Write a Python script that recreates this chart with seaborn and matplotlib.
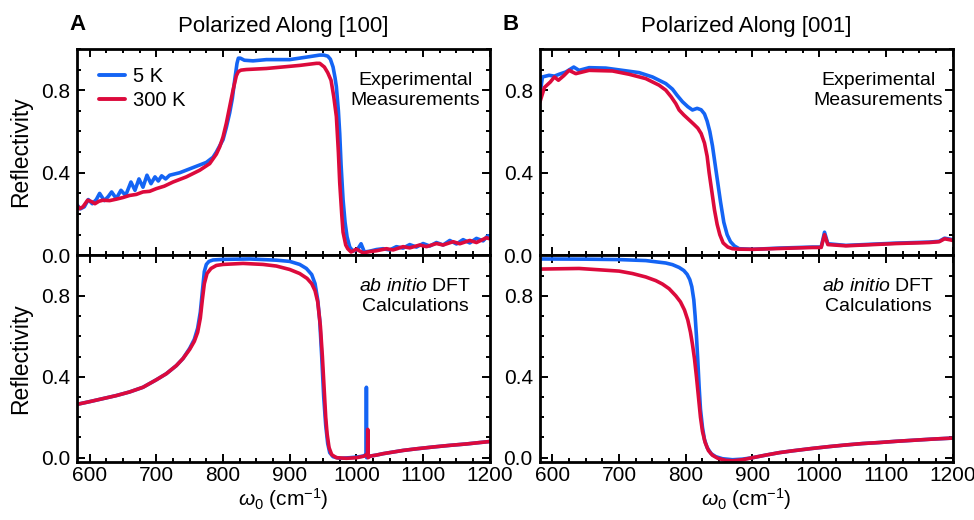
import numpy as np
import pandas as pd
import seaborn as sns
import matplotlib.pyplot as plt
from matplotlib.ticker import MultipleLocator

# ---- data ----
# Panel A, experiment, 5 K
a_exp_5k_x = [581, 586, 592, 598, 604, 610, 615, 622, 628, 633, 640, 647, 654, 662, 668, 674,
              680, 686, 692, 698, 703, 708, 714, 720, 735, 755, 775, 785, 790, 795, 800, 805,
              810, 814, 818, 821, 823, 826, 832, 845, 865, 900, 925, 945, 951, 957, 961, 965,
              968, 970, 973, 975, 977, 980, 983, 986, 990, 995, 1002, 1007, 1012, 1020, 1030,
              1040, 1050, 1060, 1070, 1080, 1090, 1100, 1110, 1120, 1130, 1140, 1150, 1160,
              1170, 1180, 1190, 1197, 1200]
a_exp_5k_y = [0.245, 0.225, 0.235, 0.27, 0.25, 0.27, 0.3, 0.265, 0.285, 0.307, 0.275, 0.315,
              0.29, 0.355, 0.315, 0.37, 0.33, 0.388, 0.347, 0.38, 0.36, 0.385, 0.37, 0.388,
              0.4, 0.425, 0.45, 0.475, 0.5, 0.53, 0.56, 0.62, 0.69, 0.76, 0.86, 0.93, 0.955,
              0.955, 0.945, 0.942, 0.948, 0.948, 0.96, 0.97, 0.97, 0.965, 0.95, 0.912, 0.86,
              0.816, 0.7, 0.59, 0.44, 0.27, 0.16, 0.09, 0.04, 0.02, 0.03, 0.056, 0.016, 0.02,
              0.028, 0.032, 0.026, 0.042, 0.035, 0.052, 0.04, 0.057, 0.045, 0.062, 0.05,
              0.072, 0.055, 0.076, 0.06, 0.082, 0.07, 0.095, 0.09]
# Panel A, experiment, 300 K
a_exp_300k_x = [581, 585, 590, 597, 603, 608, 614, 620, 630, 640, 650, 660, 670, 680, 690, 700,
                712, 725, 745, 765, 780, 790, 795, 800, 805, 810, 815, 820, 823, 827, 835, 865,
                915, 940, 945, 952, 957, 962, 966, 970, 973, 975, 978, 980, 984, 987, 992, 1000,
                1010, 1020, 1030, 1045, 1055, 1070, 1080, 1095, 1105, 1120, 1130, 1145, 1155,
                1170, 1180, 1195, 1200]
a_exp_300k_y = [0.24, 0.226, 0.235, 0.267, 0.26, 0.25, 0.262, 0.267, 0.265, 0.272, 0.28, 0.29,
                0.295, 0.307, 0.31, 0.323, 0.335, 0.355, 0.38, 0.412, 0.444, 0.49, 0.525, 0.573,
                0.64, 0.72, 0.8, 0.87, 0.89, 0.897, 0.9, 0.905, 0.92, 0.93, 0.93, 0.912, 0.885,
                0.848, 0.77, 0.672, 0.5, 0.352, 0.2, 0.112, 0.05, 0.032, 0.016, 0.03, 0.012,
                0.018, 0.022, 0.032, 0.026, 0.042, 0.036, 0.05, 0.042, 0.057, 0.05, 0.066,
                0.056, 0.072, 0.062, 0.085, 0.08]
# Panel A, DFT, 5 K
a_dft_5k_x = [583, 600, 620, 640, 660, 680, 700, 715, 730, 740, 750, 757, 762, 766, 769, 772,
              775, 779, 785, 800, 840, 880, 900, 915, 925, 933, 938, 942, 945, 948, 951, 954,
              957, 960, 965, 975, 990, 1000, 1010, 1014.6, 1015, 1015.4, 1020, 1030, 1040,
              1055, 1070, 1090, 1115, 1140, 1165, 1185, 1200]
a_dft_5k_y = [0.265, 0.277, 0.292, 0.307, 0.325, 0.348, 0.385, 0.415, 0.455, 0.49, 0.54,
              0.585, 0.64, 0.72, 0.82, 0.92, 0.955, 0.97, 0.977, 0.98, 0.982, 0.976, 0.97,
              0.955, 0.935, 0.905, 0.86, 0.78, 0.68, 0.5, 0.3, 0.16, 0.07, 0.025, 0.005, -0.003,
              0.0, 0.003, 0.008, 0.015, 0.348, 0.0, 0.008, 0.013, 0.02, 0.028, 0.036, 0.044,
              0.053, 0.061, 0.068, 0.075, 0.08]
# Panel A, DFT, 300 K
a_dft_300k_x = [583, 600, 620, 640, 660, 680, 700, 715, 730, 740, 750, 757, 762, 766, 769, 772,
                776, 782, 790, 800, 830, 860, 880, 900, 915, 926, 933, 938, 942, 946, 949, 951,
                954, 956, 959, 963, 970, 985, 1000, 1012, 1016.6, 1017, 1017.5, 1021, 1030,
                1040, 1055, 1070, 1090, 1115, 1140, 1165, 1185, 1200]
a_dft_300k_y = [0.265, 0.277, 0.292, 0.307, 0.325, 0.348, 0.385, 0.415, 0.455, 0.49, 0.535,
                0.575, 0.62, 0.69, 0.78, 0.86, 0.91, 0.935, 0.95, 0.955, 0.96, 0.955, 0.947,
                0.93, 0.91, 0.886, 0.86, 0.825, 0.77, 0.65, 0.5, 0.38, 0.2, 0.12, 0.05, 0.015,
                0.0, -0.003, 0.0, 0.008, 0.02, 0.14, 0.0, 0.008, 0.013, 0.02, 0.028, 0.036,
                0.044, 0.053, 0.061, 0.068, 0.075, 0.08]
# Panel B, experiment, 5 K
b_exp_5k_x = [581, 585, 595, 603, 610, 620, 632, 640, 655, 680, 705, 730, 750, 770, 780, 787,
              795, 803, 810, 817, 823, 828, 832, 836, 840, 844, 848, 852, 857, 862, 867, 873,
              880, 900, 940, 990, 1003, 1008, 1013, 1040, 1115, 1165, 1180, 1188, 1198, 1200]
b_exp_5k_y = [0.768, 0.864, 0.872, 0.868, 0.877, 0.888, 0.912, 0.896, 0.909, 0.907, 0.896,
              0.885, 0.864, 0.832, 0.805, 0.775, 0.744, 0.72, 0.704, 0.712, 0.705, 0.685, 0.65,
              0.6, 0.53, 0.44, 0.35, 0.26, 0.16, 0.1, 0.066, 0.045, 0.032, 0.029, 0.035, 0.04,
              0.04, 0.112, 0.056, 0.048, 0.059, 0.064, 0.068, 0.083, 0.077, 0.075]
# Panel B, experiment, 300 K
b_exp_300k_x = [581, 588, 597, 603, 609, 617, 625, 635, 655, 690, 715, 740, 760, 770, 778, 785,
                790, 797, 805, 812, 818, 823, 828, 832, 835, 839, 843, 847, 851, 856, 863, 870,
                877, 900, 940, 990, 1003, 1008, 1013, 1040, 1115, 1165, 1180, 1188, 1198, 1200]
b_exp_300k_y = [0.74, 0.813, 0.84, 0.864, 0.848, 0.87, 0.896, 0.88, 0.896, 0.893, 0.877, 0.856,
                0.824, 0.8, 0.768, 0.735, 0.704, 0.68, 0.656, 0.635, 0.616, 0.59, 0.544, 0.48,
                0.4, 0.31, 0.22, 0.15, 0.1, 0.06, 0.04, 0.032, 0.03, 0.029, 0.033, 0.038, 0.038,
                0.1, 0.052, 0.046, 0.057, 0.062, 0.066, 0.08, 0.074, 0.072]
# Panel B, DFT, 5 K
b_dft_5k_x = [581, 650, 700, 740, 770, 780, 790, 797, 802, 806, 809, 812, 814, 816, 818, 820,
              822, 825, 828, 832, 838, 845, 855, 870, 885, 900, 920, 940, 960, 990, 1015,
              1040, 1065, 1090, 1115, 1140, 1170, 1200]
b_dft_5k_y = [0.982, 0.981, 0.979, 0.974, 0.962, 0.954, 0.94, 0.925, 0.906, 0.88, 0.845, 0.78,
              0.7, 0.6, 0.48, 0.35, 0.24, 0.15, 0.09, 0.05, 0.02, 0.005, -0.005, -0.01, -0.007,
              0.0, 0.013, 0.025, 0.034, 0.046, 0.055, 0.063, 0.07, 0.075, 0.081, 0.086, 0.092,
              0.097]
# Panel B, DFT, 300 K
b_dft_300k_x = [581, 640, 700, 720, 740, 755, 765, 775, 785, 792, 798, 803, 807, 810, 813, 816,
                819, 822, 825, 829, 834, 840, 848, 860, 870, 885, 900, 920, 940, 960, 990, 1015,
                1040, 1065, 1090, 1115, 1140, 1170, 1200]
b_dft_300k_y = [0.932, 0.935, 0.922, 0.91, 0.893, 0.875, 0.858, 0.835, 0.8, 0.77, 0.73, 0.68,
                0.62, 0.56, 0.49, 0.4, 0.3, 0.2, 0.13, 0.075, 0.035, 0.012, -0.003, -0.013,
                -0.015, -0.01, 0.0, 0.013, 0.025, 0.034, 0.046, 0.055, 0.063, 0.07, 0.075,
                0.081, 0.086, 0.092, 0.097]

labels = ["5 K", "300 K"]
colors = {"5 K": "#1464f4", "300 K": "#dc0a3c"}

sns.set_style("ticks")
plt.rcParams['font.family'] = ['Liberation Sans', 'DejaVu Sans']
plt.rcParams['mathtext.fontset'] = 'custom'
plt.rcParams['mathtext.rm'] = 'Liberation Sans'
plt.rcParams['mathtext.it'] = 'Liberation Sans:italic'
plt.rcParams['text.color'] = 'black'
plt.rcParams['axes.labelcolor'] = 'black'


def make_df(x5, y5, x300, y300):
    d1 = pd.DataFrame({"w": x5, "R": y5, "T": "5 K"})
    d2 = pd.DataFrame({"w": x300, "R": y300, "T": "300 K"})
    return pd.concat([d1, d2], ignore_index=True)


panels = [
    [make_df(a_exp_5k_x, a_exp_5k_y, a_exp_300k_x, a_exp_300k_y),
     make_df(b_exp_5k_x, b_exp_5k_y, b_exp_300k_x, b_exp_300k_y)],
    [make_df(a_dft_5k_x, a_dft_5k_y, a_dft_300k_x, a_dft_300k_y),
     make_df(b_dft_5k_x, b_dft_5k_y, b_dft_300k_x, b_dft_300k_y)],
]

fig, axes = plt.subplots(2, 2, figsize=(9.74, 5.2), dpi=100)
fig.subplots_adjust(left=0.079, right=0.978, top=0.906, bottom=0.112, hspace=0, wspace=0.121)

for r in range(2):
    for c in range(2):
        ax = axes[r, c]
        sns.lineplot(data=panels[r][c], x="w", y="R", hue="T", hue_order=labels,
                     palette=colors, linewidth=2.6, sort=False, estimator=None,
                     legend=(r == 0 and c == 0), ax=ax)
        ax.set_xlim(581, 1200)
        if r == 0:
            ax.set_ylim(0, 1.0)
        else:
            ax.set_ylim(-0.02, 1.0)
        ax.xaxis.set_major_locator(MultipleLocator(100))
        ax.xaxis.set_minor_locator(MultipleLocator(25))
        ax.yaxis.set_major_locator(MultipleLocator(0.4))
        ax.yaxis.set_minor_locator(MultipleLocator(0.1))
        ax.yaxis.set_major_formatter(plt.FormatStrFormatter('%.1f'))
        ax.tick_params(which='both', direction='in', top=True, right=True, width=1.4,
                       labelsize=15, colors='black', pad=5)
        ax.tick_params(axis='x', pad=3)
        ax.tick_params(which='major', length=6)
        ax.tick_params(which='minor', length=3)
        for s in ax.spines.values():
            s.set_linewidth(2)
            s.set_color('black')
        ax.set_xlabel("")
        ax.set_ylabel("")
        if r == 0:
            ax.tick_params(labelbottom=False)
        else:
            ax.set_xlabel(r"$\omega_0$ (cm$^{-1}$)", fontsize=15, labelpad=1)
        if c == 0:
            ax.set_ylabel("Reflectivity", fontsize=16.5, labelpad=6)

for c in range(2):
    axes[0, c].text(0.82, 0.80, "Experimental\nMeasurements", transform=axes[0, c].transAxes,
                    ha='center', va='center', fontsize=14, linespacing=1.25)
    axes[1, c].text(0.82, 0.80, r"$\it{ab\ initio}$ DFT" + "\nCalculations",
                    transform=axes[1, c].transAxes, ha='center', va='center',
                    fontsize=14, linespacing=1.25)

leg = axes[0, 0].legend(loc='upper left', frameon=False, fontsize=14.5, handlelength=1.3,
                        handletextpad=0.35, labelspacing=0.25, borderaxespad=0.3,
                        bbox_to_anchor=(0.02, 0.98))
for line in leg.get_lines():
    line.set_linewidth(2.8)

axes[0, 0].set_title("Polarized Along [100]", fontsize=16, pad=12)
axes[0, 1].set_title("Polarized Along [001]", fontsize=16, pad=12)
fig.text(0.071, 0.953, "A", fontsize=16, fontweight='bold', ha='left', va='center')
fig.text(0.516, 0.953, "B", fontsize=16, fontweight='bold', ha='left', va='center')

plt.savefig("out.png", dpi=100)
